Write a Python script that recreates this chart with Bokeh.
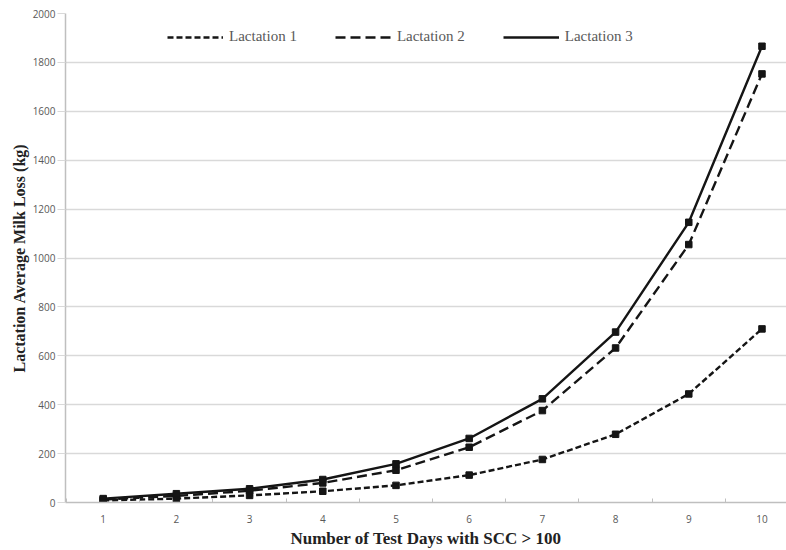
from bokeh.plotting import figure
from bokeh.models import Range1d, FixedTicker, Legend, LegendItem
from bokeh.embed import file_html
from bokeh.resources import INLINE

test_days = [1, 2, 3, 4, 5, 6, 7, 8, 9, 10]
lact1 = [8, 16, 29, 46, 70, 112, 176, 279, 444, 710]
lact2 = [12, 27, 48, 80, 132, 226, 376, 632, 1055, 1753]
lact3 = [16, 36, 56, 94, 158, 262, 424, 697, 1146, 1866]
series_names = ["Lactation 1", "Lactation 2", "Lactation 3"]
y_ticks = [0, 200, 400, 600, 800, 1000, 1200, 1400, 1600, 1800, 2000]

p = figure(width=786, height=550, output_backend="svg", toolbar_location=None,
           x_range=Range1d(0.485, 10.335), y_range=Range1d(0, 2000),
           min_border_left=65, min_border_right=0, min_border_top=13, min_border_bottom=48)
p.outline_line_color = None
p.background_fill_color = "white"

line_color = "#151515"
styles = [("6 3", lact1), ("10 5", lact2), ("solid", lact3)]
items = []
for (dash, ys), name in zip(styles, series_names):
    r = p.line(test_days, ys, line_color=line_color, line_width=2.4, line_dash=dash)
    p.scatter(test_days, ys, marker="square", size=6.5, fill_color=line_color, line_color=line_color)
    items.append(LegendItem(label=name, renderers=[r]))

legend = Legend(items=items, orientation="horizontal", location=(102, 457),
                glyph_width=56, glyph_height=16, label_standoff=6, spacing=38,
                padding=0, margin=0, border_line_color=None, background_fill_alpha=0,
                label_text_font="Liberation Serif", label_text_font_size="15px",
                label_text_color="#595959")
p.add_layout(legend)

# x axis
p.xaxis.ticker = FixedTicker(ticks=test_days, minor_ticks=[0.5 + i for i in range(11)])
p.xaxis.major_tick_out = 0
p.xaxis.major_tick_in = 0
p.xaxis.minor_tick_in = 4
p.xaxis.minor_tick_out = 0
p.xaxis.minor_tick_line_color = "#bfbfbf"
p.xaxis.axis_line_color = "#bfbfbf"
p.xaxis.axis_line_width = 1.5
p.xaxis.major_label_text_font = "Open Sans"
p.xaxis.major_label_text_font_size = "10px"
p.xaxis.major_label_text_color = "#595959"
p.xaxis.major_label_standoff = 12
p.xaxis.axis_label = "Number of Test Days with SCC > 100"
p.xaxis.axis_label_text_font = "Liberation Serif"
p.xaxis.axis_label_text_font_style = "bold"
p.xaxis.axis_label_text_font_size = "17px"
p.xaxis.axis_label_text_color = "#222222"
p.xaxis.axis_label_standoff = 3

# y axis
p.yaxis.ticker = FixedTicker(ticks=y_ticks)
p.yaxis.minor_tick_line_color = None
p.yaxis.major_tick_out = 8
p.yaxis.major_tick_in = 0
p.yaxis.major_tick_line_color = "#d9d9d9"
p.yaxis.axis_line_color = "#bfbfbf"
p.yaxis.axis_line_width = 1.5
p.yaxis.major_label_text_font = "Open Sans"
p.yaxis.major_label_text_font_size = "10px"
p.yaxis.major_label_text_color = "#595959"
p.yaxis.major_label_standoff = 2
p.yaxis.axis_label = "Lactation Average Milk Loss (kg)"
p.yaxis.axis_label_text_font = "Liberation Serif"
p.yaxis.axis_label_text_font_style = "bold"
p.yaxis.axis_label_text_font_size = "16px"
p.yaxis.axis_label_text_color = "#222222"
p.yaxis.axis_label_standoff = 2

p.xgrid.grid_line_color = None
p.ygrid.grid_line_color = "#d9d9d9"
p.ygrid.grid_line_width = 1.5
p.ygrid.ticker = FixedTicker(ticks=y_ticks)

open("out.html", "w").write(file_html(p, INLINE))
